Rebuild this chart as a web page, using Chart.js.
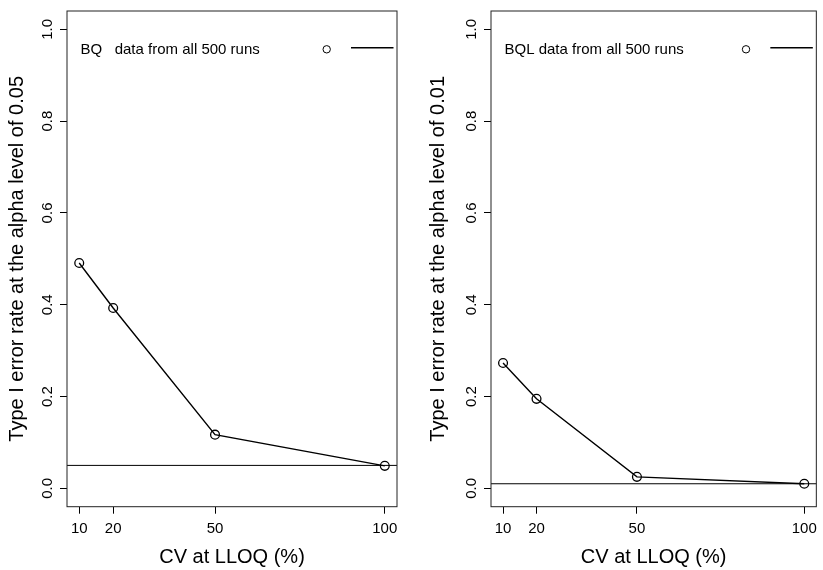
<!DOCTYPE html>
<html lang="en">

<head>
    <meta charset="UTF-8">
    <script src="https://cdn.jsdelivr.net/npm/chart.js"></script>
    <title>Type I error rate vs CV at LLOQ</title>
    <style>
        body {
            margin: 0;
            background: #ffffff;
            width: 823px;
            height: 570px;
            position: relative;
            overflow: hidden;
        }

        .painel {
            position: absolute;
            top: 0;
        }

        #painelBQ {
            left: 0px;
        }

        #painelBQL {
            left: 424px;
        }
    </style>
</head>

<body>
    <div class="painel" id="painelBQ"><canvas id="graficoBQ" width="411" height="570"></canvas></div>
    <div class="painel" id="painelBQL"><canvas id="graficoBQL" width="399" height="570"></canvas></div>
</body>

</html>

<script>
    // values
    const cvLevels = [10, 20, 50, 100];
    const errorRateBQ = [0.491, 0.393, 0.117, 0.049];
    const errorRateBQL = [0.273, 0.195, 0.025, 0.010];
    const xTicks = [10, 20, 50, 100];
    const yTicks = [0.0, 0.2, 0.4, 0.6, 0.8, 1.0];
    const alphaLevels = [0.05, 0.01];
    const legendLabels = ['BQ   data from all 500 runs', 'BQL data from all 500 runs'];
    const yTitles = [
        'Type I error rate at the alpha level of 0.05',
        'Type I error rate at the alpha level of 0.01'
    ];
    const xTitle = 'CV at LLOQ (%)';

    const FONTE = "'Liberation Sans', Arial, Helvetica, sans-serif";

    // box, horizontal alpha line and the little legend at the top
    const extrasPainel = {
        id: 'extrasPainel',
        afterDatasetsDraw(chart, args, opts) {
            const ctx = chart.ctx;
            const area = chart.chartArea;
            const yScale = chart.scales.y;

            ctx.save();
            ctx.strokeStyle = '#000';
            ctx.lineWidth = 1;

            // alpha level line
            const yAlpha = yScale.getPixelForValue(opts.alpha);
            ctx.beginPath();
            ctx.moveTo(area.left, yAlpha);
            ctx.lineTo(area.right, yAlpha);
            ctx.stroke();

            // box round the plot
            ctx.strokeStyle = '#222';
            ctx.strokeRect(area.left, area.top, area.right - area.left, area.bottom - area.top);

            // legend
            ctx.fillStyle = '#000';
            ctx.font = '15px ' + FONTE;
            ctx.textBaseline = 'middle';
            ctx.textAlign = 'left';
            ctx.fillText(opts.legendText, area.left + 13.5, area.top + 39.3);

            ctx.strokeStyle = '#000';
            ctx.beginPath();
            ctx.arc(area.right - 70.3, area.top + 38.3, 3.7, 0, Math.PI * 2);
            ctx.stroke();

            ctx.lineWidth = 1.5;
            ctx.beginPath();
            ctx.moveTo(area.right - 46, area.top + 36.7);
            ctx.lineTo(area.right - 3.5, area.top + 36.7);
            ctx.stroke();
            ctx.restore();
        }
    };

    function criarGrafico(idCanvas, valores, alpha, legenda, tituloY, paddingDireita, paddingTitulo) {
        const ctx = document.getElementById(idCanvas).getContext('2d');

        const dados = {
            datasets: [{
                data: cvLevels.map((cv, i) => ({ x: cv, y: valores[i] })),
                borderColor: '#000',
                borderWidth: 1.4,
                backgroundColor: 'rgba(0,0,0,0)',
                pointRadius: 4.4,
                pointBorderWidth: 1.3,
                pointBorderColor: '#000',
                pointBackgroundColor: 'rgba(0,0,0,0)',
                tension: 0
            }]
        };

        const config = {
            type: 'line',
            data: dados,
            plugins: [extrasPainel],
            options: {
                responsive: false,
                animation: false,
                layout: {
                    padding: { top: 6, right: paddingDireita, bottom: 0, left: 0 }
                },
                plugins: {
                    legend: { display: false },
                    tooltip: { enabled: false },
                    extrasPainel: { alpha: alpha, legendText: legenda }
                },
                scales: {
                    x: {
                        type: 'linear',
                        min: 6.4,
                        max: 103.6,
                        afterBuildTicks: (scale) => {
                            scale.ticks = xTicks.map(v => ({ value: v }));
                        },
                        afterFit: (scale) => {
                            scale.height = 63.3;
                        },
                        grid: {
                            drawOnChartArea: false,
                            drawTicks: true,
                            tickLength: 7,
                            color: '#000'
                        },
                        border: { display: false },
                        ticks: {
                            color: '#000',
                            padding: 6,
                            maxRotation: 0,
                            font: { size: 15, family: FONTE }
                        },
                        title: {
                            display: true,
                            text: xTitle,
                            color: '#000',
                            padding: { top: 0, bottom: 1 },
                            font: { size: 20, family: FONTE }
                        }
                    },
                    y: {
                        type: 'linear',
                        min: -0.04,
                        max: 1.04,
                        afterBuildTicks: (scale) => {
                            scale.ticks = yTicks.map(v => ({ value: v }));
                        },
                        afterFit: (scale) => {
                            scale.width = 67;
                        },
                        grid: {
                            drawOnChartArea: false,
                            drawTicks: true,
                            tickLength: 7,
                            color: '#000'
                        },
                        border: { display: false },
                        ticks: {
                            color: '#000',
                            padding: 2,
                            minRotation: 90,
                            maxRotation: 90,
                            crossAlign: 'center',
                            font: { size: 15, family: FONTE },
                            callback: (value) => Number(value).toFixed(1)
                        },
                        title: {
                            display: true,
                            text: tituloY,
                            color: '#000',
                            padding: { top: paddingTitulo, bottom: 0 },
                            font: { size: 20, family: FONTE }
                        }
                    }
                }
            }
        };

        new Chart(ctx, config);
    }

    criarGrafico('graficoBQ', errorRateBQ, alphaLevels[0], legendLabels[0], yTitles[0], 14, 5);
    criarGrafico('graficoBQL', errorRateBQL, alphaLevels[1], legendLabels[1], yTitles[1], 3, 2);
</script>
